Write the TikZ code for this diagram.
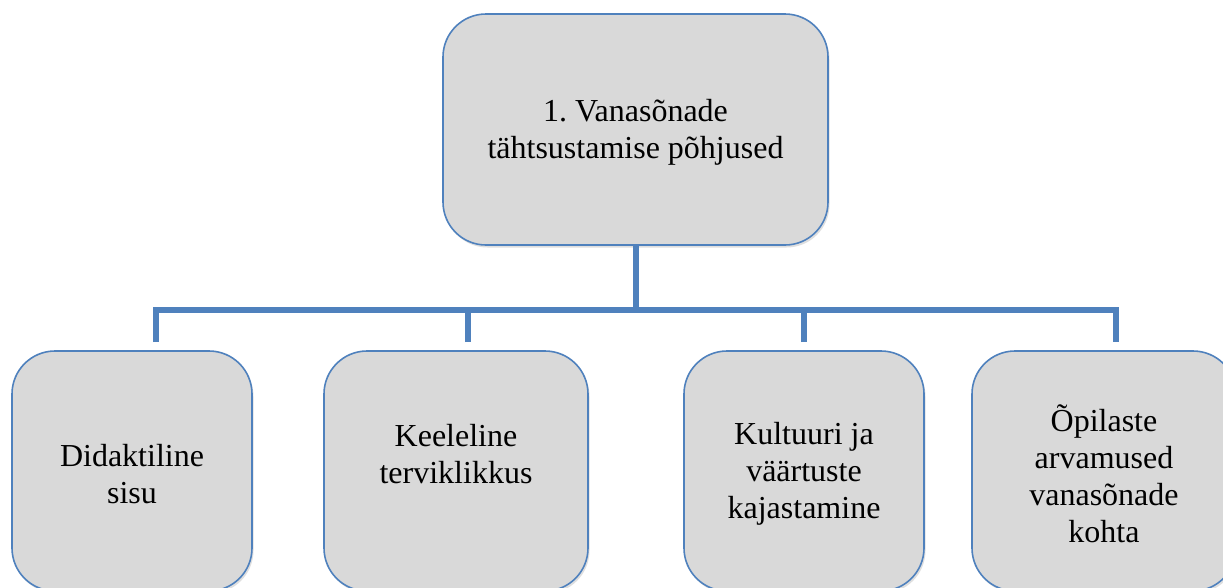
\documentclass[tikz,border=0pt]{standalone}
\usepackage{fontspec}
\setmainfont{Liberation Serif}
\usetikzlibrary{shadows}
\definecolor{boxfill}{HTML}{D9D9D9}
\definecolor{boxline}{HTML}{4F81BD}
\frenchspacing
\tikzset{
  box/.style={rectangle, rounded corners=43pt, draw=boxline, line width=1.6pt,
    fill=boxfill, inner sep=0pt,
    drop shadow={shadow xshift=1.5pt, shadow yshift=-2.5pt, opacity=0.25}},
  boxtext/.style={align=center, inner sep=0pt, font=\fontsize{32}{37}\selectfont},
  conn/.style={draw=boxline, line width=6pt, line join=miter, line cap=butt}
}
\begin{document}
\begin{tikzpicture}[x=1pt,y=-1pt]
\clip (0,0) rectangle (1223,587);
\fill[white] (0,0) rectangle (1223,587);
% boxes
\node[box, minimum width=385pt, minimum height=231pt] (top) at (635.5,129.5) {};
\node[box, minimum width=240pt, minimum height=240pt] (b1) at (132,471) {};
\node[box, minimum width=264pt, minimum height=240pt] (b2) at (456,471) {};
\node[box, minimum width=240pt, minimum height=240pt] (b3) at (804,471) {};
\node[box, minimum width=264pt, minimum height=240pt] (b4) at (1104,471) {};
% texts
\node[boxtext] (ttop) at (635.5,132) {1. Vanasõnade\\tähtsustamise põhjused};
\node[boxtext] (t1txt) at (132,474) {Didaktiline\\sisu};
\node[boxtext] (t2txt) at (456,454) {Keeleline\\terviklikkus};
\node[boxtext] (t3txt) at (804,474) {Kultuuri ja\\väärtuste\\kajastamine};
\node[boxtext] (t4txt) at (1104,474) {Õpilaste\\arvamused\\vanasõnade\\kohta};
% connectors
\coordinate (hub) at (636,310);
\coordinate (k1) at (156,342);
\coordinate (k2) at (468,342);
\coordinate (k3) at (804,342);
\coordinate (k4) at (1116,342);
\draw[conn] (top.south -| hub) -- (hub);
\draw[conn] (k1) |- (hub) -| (k4);
\draw[conn] (k2) -- (k2 |- hub);
\draw[conn] (k3) -- (k3 |- hub);
\end{tikzpicture}
\end{document}
